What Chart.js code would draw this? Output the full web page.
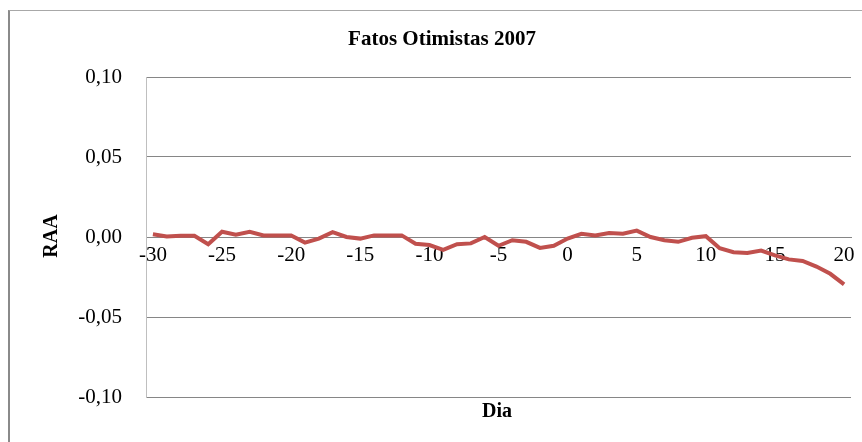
<!DOCTYPE html>
<html>
<head>
<meta charset="utf-8">
<script src="https://cdn.jsdelivr.net/npm/chart.js@4/dist/chart.umd.min.js"></script>
<style>
  html, body { margin: 0; padding: 0; background: #fff; overflow: hidden; }
  #frame { position: absolute; left: 8px; top: 10px; width: 900px; height: 500px;
           border-left: 2px solid #8a8a8a; border-top: 1px solid #a8a8a8; }
  #chart { position: absolute; left: 0; top: 0; }
</style>
</head>
<body>
<div id="frame"></div>
<canvas id="chart" width="862" height="442"></canvas>
<script>
// dias em torno do evento
const days = [-30, -29, -28, -27, -26, -25, -24, -23, -22, -21, -20,
  -19, -18, -17, -16, -15, -14, -13, -12, -11, -10,
  -9, -8, -7, -6, -5, -4, -3, -2, -1, 0,
  1, 2, 3, 4, 5, 6, 7, 8, 9, 10,
  11, 12, 13, 14, 15, 16, 17, 18, 19, 20]

// retorno anormal acumulado
const raa = [0.0017, 0.0003, 0.0008, 0.0008, -0.0045, 0.0033, 0.0015, 0.0032, 0.0010, 0.0010, 0.0010,
  -0.0035, -0.0010, 0.0030, 0.0000, -0.0010, 0.0010, 0.0010, 0.0010, -0.0042, -0.0050,
  -0.0080, -0.0045, -0.0040, 0.0000, -0.0055, -0.0020, -0.0030, -0.0068, -0.0055, -0.0010,
  0.0020, 0.0010, 0.0025, 0.0020, 0.0040, 0.0000, -0.0020, -0.0030, -0.0005, 0.0005,
  -0.0070, -0.0095, -0.0100, -0.0085, -0.0115, -0.0140, -0.0150, -0.0185, -0.0230, -0.0296]

const yMin = -0.10
const yMax = 0.10
const yStep = 0.05

const serif = 'Liberation Serif, Times New Roman, serif'

// textos fixos: titulo e titulos dos eixos
const textPlugin = {
  id: 'texts',
  afterDraw(chart) {
    const ctx = chart.ctx
    ctx.save()
    ctx.fillStyle = '#000'
    ctx.textAlign = 'center'
    ctx.textBaseline = 'middle'
    ctx.font = 'bold 21px ' + serif
    ctx.fillText('Fatos Otimistas 2007', 442, 40)
    ctx.font = 'bold 20px ' + serif
    ctx.fillText('Dia', 497, 412)
    ctx.translate(52, 236)
    ctx.rotate(-Math.PI / 2)
    ctx.fillText('RAA', 0, 0)
    ctx.restore()
  }
}

new Chart(document.getElementById('chart'), {
  type: 'line',
  data: {
    labels: days,
    datasets: [{
      data: raa,
      borderColor: '#C0504D',
      borderWidth: 4,
      pointRadius: 0,
      tension: 0,
      fill: false
    }]
  },
  options: {
    responsive: false,
    animation: false,
    devicePixelRatio: 1,
    layout: { padding: { top: 77, bottom: 45, left: 0, right: 11 } },
    plugins: {
      legend: { display: false },
      tooltip: { enabled: false }
    },
    scales: {
      x: {
        type: 'category',
        position: { y: 0 },
        offset: true,
        grid: { display: false, drawTicks: false },
        border: { display: true, color: '#868686', width: 1 },
        ticks: {
          color: '#000',
          font: { family: serif, size: 21 },
          padding: 6,
          maxRotation: 0,
          autoSkip: false,
          callback: (v, i) => (days[i] % 5 === 0 ? String(days[i]) : '')
        }
      },
      y: {
        min: yMin,
        max: yMax,
        afterFit: s => { s.width = 146 },
        grid: { color: '#868686', drawTicks: false },
        border: { color: '#BFBFBF', width: 1 },
        ticks: {
          stepSize: yStep,
          padding: 24,
          color: '#000',
          font: { family: serif, size: 21 },
          callback: v => v.toFixed(2).replace('.', ',')
        }
      }
    }
  },
  plugins: [textPlugin]
})
</script>
</body>
</html>
